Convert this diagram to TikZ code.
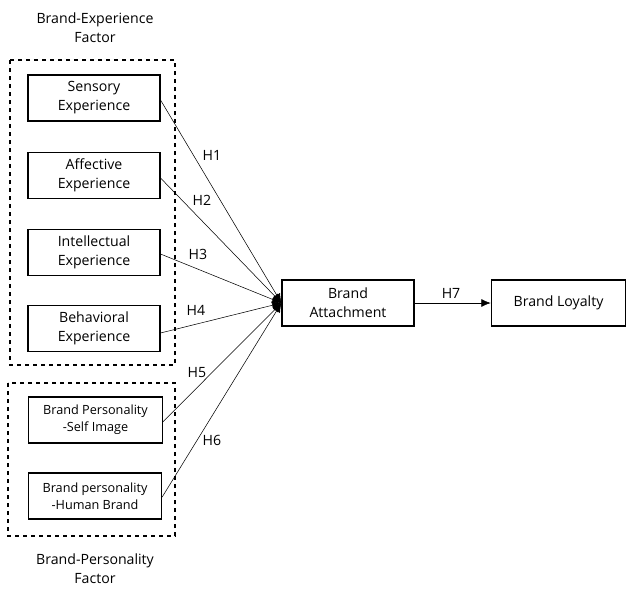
\documentclass[tikz,border=0pt]{standalone}
\usepackage{fontspec}
\setmainfont{Open Sans}
\usetikzlibrary{arrows.meta}

\begin{document}
\begin{tikzpicture}[x=0.75pt,y=-0.75pt,
  box/.style={draw,thick,minimum width=99pt,minimum height=34.5pt,align=center,inner sep=1pt,font=\fontsize{10.6}{14.3}\selectfont},
  sbox/.style={box,font=\fontsize{9.5}{13}\selectfont},
  group/.style={draw,thick,dashed},
  hyp/.style={-{Latex[length=7pt,width=6pt]}},
  lbl/.style={font=\fontsize{10.6}{14.5}\selectfont}]
\useasboundingbox (0,0) rectangle (635,596);
% factor groups
\draw[group] (10,60) rectangle (175,365);
\draw[group] (8,383) rectangle (175,536);
\node[lbl,align=center] (expf) at (95,28) {Brand-Experience\\Factor};
\node[lbl,align=center] (perf) at (95,569) {Brand-Personality\\Factor};
% brand experience
\node[box] (sen) at (94,98) {Sensory\\Experience};
\node[box] (aff) at (94,175.5) {Affective\\Experience};
\node[box] (int) at (94,252.5) {Intellectual\\Experience};
\node[box] (beh) at (94,328.5) {Behavioral\\Experience};
% brand personality
\node[sbox,minimum width=100pt] (self) at (95.5,420) {Brand Personality\\-Self Image};
\node[sbox,minimum width=100pt] (hum) at (95,496) {Brand personality\\-Human Brand};
% outcomes
\node[box] (att) at (348,303) {Brand\\Attachment};
\node[box,minimum width=101pt] (loy) at (558.5,303) {Brand Loyalty};
% hypotheses
\foreach \s/\y in {sen/100,aff/178,int/254,beh/333,self/422,hum/497}
  \draw[hyp] (\s.east |- 0,\y) -- (att.west);
\draw[hyp] (att) -- (loy);
\foreach \t/\x/\y in {H1/212/155,H2/202/200,H3/198/254,H4/196/310,H5/197/373,H6/212/440,H7/451/293}
  \node[lbl] at (\x,\y) {\t};
\end{tikzpicture}
\end{document}
